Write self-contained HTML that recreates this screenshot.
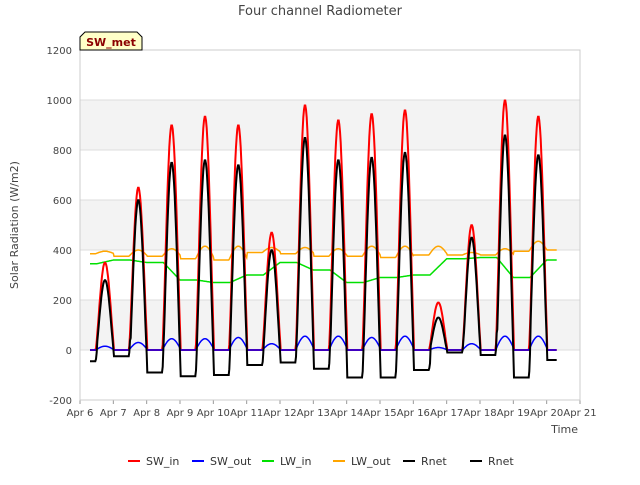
<!DOCTYPE html>
<html><head><meta charset="utf-8"><style>
body{margin:0;background:#fff;font-family:"Liberation Sans","DejaVu Sans",sans-serif}
text{font-family:"DejaVu Sans","Liberation Sans",sans-serif}
</style></head><body>
<svg id="c" width="640" height="480" xmlns="http://www.w3.org/2000/svg"></svg>
<script>
const yTicks=[-200,0,200,400,600,800,1000,1200];
const xTickLabels=["Apr 6","Apr 7","Apr 8","Apr 9","Apr 10","Apr 11","Apr 12","Apr 13","Apr 14","Apr 15","Apr 16","Apr 17","Apr 18","Apr 19","Apr 20","Apr 21"];
const swInPeak=[350,650,900,935,900,470,980,920,945,960,190,500,1000,935,0];
const swOutPeak=[15,30,45,45,50,25,55,55,50,55,10,25,55,55,0];
const rnetPeak=[280,600,750,760,740,400,850,760,770,790,130,450,860,780,0];
const rnetNight=[-45,-25,-90,-105,-100,-60,-50,-75,-110,-110,-80,-10,-20,-110,-40];
const lwInLevel=[345,360,350,280,270,300,350,320,270,290,300,365,370,290,360];
const lwOutNight=[385,375,375,365,360,390,385,375,375,370,380,380,380,395,400];
const lwOutBump=[10,25,30,50,55,20,25,30,40,45,35,10,25,40,0];
const svg=document.getElementById('c');
const NS='http://www.w3.org/2000/svg';
const X0=80,X1=580,Y0=400,Y1=50;
const xs=d=>X0+(d-6)/15*(X1-X0);
const ys=v=>Y0-(v+200)/1400*(Y0-Y1);
function el(t,a,p){const e=document.createElementNS(NS,t);for(const k in a)e.setAttribute(k,a[k]);(p||svg).appendChild(e);return e;}
[[0,200],[400,600],[800,1000]].forEach(b=>{const r=el('rect',{x:X0,y:ys(b[1]),width:X1-X0,height:ys(b[0])-ys(b[1]),fill:'#f3f3f3'});

});
yTicks.forEach(v=>{el('line',{x1:X0,x2:X1,y1:ys(v),y2:ys(v),stroke:'#dcdcdc','stroke-width':1});
const t=el('text',{x:X0-8,y:ys(v)+4,'text-anchor':'end','font-size':10,fill:'#444'});t.textContent=v;

});
xTickLabels.forEach((l,i)=>{const x=xs(6+i);el('line',{x1:x,x2:x,y1:Y0,y2:Y0+4,stroke:'#999'});
const t=el('text',{x:x,y:Y0+16,'text-anchor':'middle','font-size':10,fill:'#444'});t.textContent=l;

});
el('rect',{x:X0,y:Y1,width:X1-X0,height:Y0-Y1,fill:'none',stroke:'#ccc'});
function sun(f){const a=(f-0.47)/0.56;return a>0&&a<1?Math.sin(Math.PI*a):0;}
function series(fn){const pts=[];for(let d=6.3;d<=20.3+1e-9;d+=0.02){const day=Math.floor(d)-6;const f=d-Math.floor(d);pts.push([d,fn(day,f)]);}return pts;}
function nightRn(day,f){return f<0.5?rnetNight[Math.max(0,day)]:rnetNight[Math.min(day+1,rnetNight.length-1)];}
const sIn=series((k,f)=>swInPeak[k]*Math.pow(sun(f),1.3));
const sOut=series((k,f)=>swOutPeak[k]*sun(f));
const lIn=series((k,f)=>{const n=Math.min(k+1,lwInLevel.length-1);return lwInLevel[k]+(lwInLevel[n]-lwInLevel[k])*(f>0.5?(f-0.5)*2:0);});
const lOut=series((k,f)=>lwOutNight[k]+lwOutBump[k]*sun(f));
const rn=series((k,f)=>{const s=sun(f);return s>0?nightRn(k,f)*(1-s)+rnetPeak[k]*Math.pow(s,1.3):nightRn(k,f);});
function line(p,c,n,w){const e=el('polyline',{points:p.map(q=>xs(q[0]).toFixed(1)+','+ys(q[1]).toFixed(1)).join(' '),fill:'none',stroke:c,'stroke-width':w||1.5});

}
line(lOut,'orange','lw-out-line');line(lIn,'#00e000','lw-in-line');line(sIn,'red','sw-in-line',2);line(sOut,'blue','sw-out-line');line(rn,'black','rnet-line',2);
let t=el('text',{x:320,y:15,'text-anchor':'middle','font-size':13,fill:'#444'});t.textContent='Four channel Radiometer';

t=el('text',{x:18,y:225,'text-anchor':'middle','font-size':11,fill:'#444',transform:'rotate(-90 18 225)'});t.textContent='Solar Radiation (W/m2)';

t=el('text',{x:578,y:433,'text-anchor':'end','font-size':11,fill:'#444'});t.textContent='Time';

const g=el('g',{});
el('path',{d:'M80,50 L80,37 L85,32 L137,32 L142,37 L142,50 Z',fill:'#ffffc8',stroke:'#000'},g);
t=el('text',{x:111,y:46,'text-anchor':'middle','font-size':11,'font-weight':'bold',fill:'#8b0000'},g);t.textContent='SW_met';
const leg=[['SW_in','red',128],['SW_out','blue',192],['LW_in','#00e000',262],['LW_out','orange',333],['Rnet','black',403],['Rnet','black',470]];
leg.forEach(l=>{const lg=el('g',{});
el('line',{x1:l[2],x2:l[2]+12,y1:461,y2:461,stroke:l[1],'stroke-width':2},lg);
const tt=el('text',{x:l[2]+18,y:465,'font-size':11,fill:'#333'},lg);tt.textContent=l[0];});
</script>
</body></html>
